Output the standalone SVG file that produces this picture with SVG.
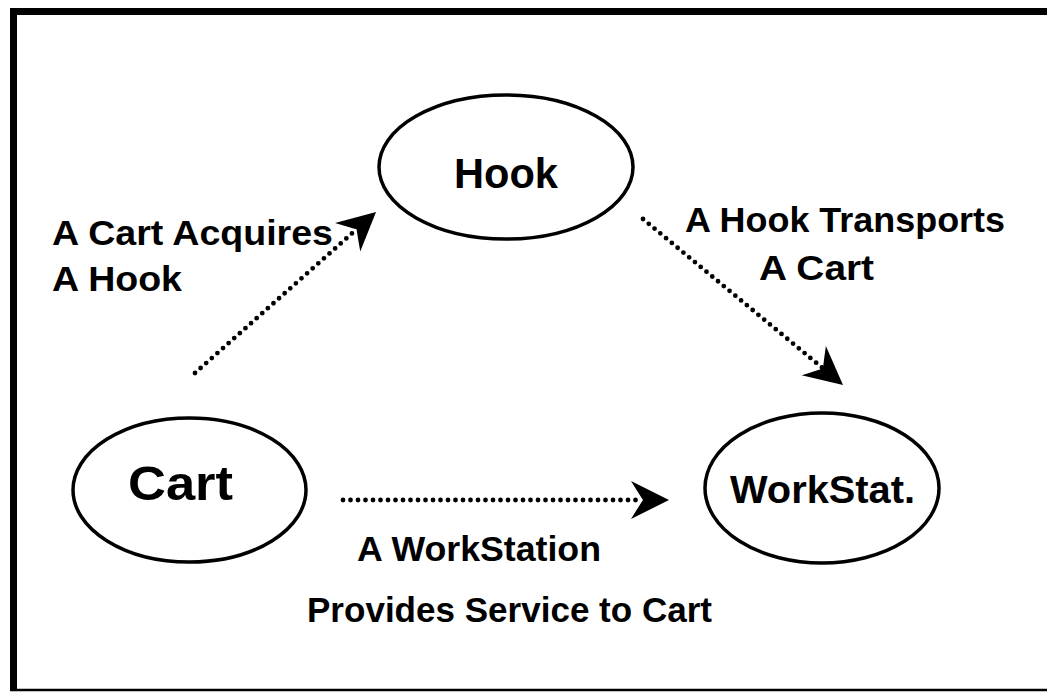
<svg xmlns="http://www.w3.org/2000/svg" width="1047" height="693" viewBox="0 0 1047 693">
<style>
.node{fill:#fff;stroke:#000;stroke-width:3.5}
.nlabel{font-family:"Liberation Sans",Arial,sans-serif;font-weight:bold;fill:#000;text-anchor:middle}
.elabel{font-family:"Liberation Sans",Arial,sans-serif;font-weight:bold;font-size:35px;fill:#000}
.edge{fill:none;stroke:#000;stroke-width:4.8;stroke-linecap:round;stroke-dasharray:0 7.5}
.frame{stroke:#000;fill:none}
</style>
<defs>
<marker id="arr" markerUnits="userSpaceOnUse" markerWidth="44" markerHeight="44" viewBox="-42 -22 44 44" refX="-26" refY="0" orient="auto">
<path d="M0,0 L-38,-19 Q-30,-6 -26,0 Q-30,6 -38,19 Z" fill="#000"/>
</marker>
</defs>
<rect width="1047" height="693" fill="#fff"/>
<g id="frame">
<line class="frame" x1="10" y1="11.5" x2="1047" y2="11.5" stroke-width="7"/>
<line class="frame" x1="13.5" y1="8" x2="13.5" y2="691" stroke-width="7"/>
<line class="frame" x1="10" y1="690" x2="1047" y2="690" stroke-width="2.5"/>
</g>
<g id="connectors">
<g id="edge-cart-hook">
<line class="edge" x1="195" y1="373" x2="356.6" y2="229.3" marker-end="url(#arr)"/>
<text class="elabel" x="52" y="245" textLength="281" lengthAdjust="spacingAndGlyphs">A Cart Acquires</text>
<text class="elabel" x="52" y="291" textLength="130" lengthAdjust="spacingAndGlyphs">A Hook</text>
</g>
<g id="edge-hook-workstat">
<line class="edge" x1="643" y1="219" x2="823" y2="368.4" marker-end="url(#arr)"/>
<text class="elabel" x="685" y="232" textLength="320" lengthAdjust="spacingAndGlyphs">A Hook Transports</text>
<text class="elabel" x="759" y="280" textLength="115" lengthAdjust="spacingAndGlyphs">A Cart</text>
</g>
<g id="edge-cart-workstat">
<line class="edge" x1="343" y1="500" x2="643" y2="500" marker-end="url(#arr)"/>
<text class="elabel" x="357" y="561" textLength="244" lengthAdjust="spacingAndGlyphs">A WorkStation</text>
<text class="elabel" x="307" y="622" textLength="405" lengthAdjust="spacingAndGlyphs">Provides Service to Cart</text>
</g>
</g>
<g id="node-hook">
<ellipse class="node" cx="506" cy="167" rx="127" ry="72"/>
<text class="nlabel" x="506" y="188" font-size="42" textLength="104" lengthAdjust="spacingAndGlyphs">Hook</text>
</g>
<g id="node-cart">
<ellipse class="node" cx="189.5" cy="490" rx="116.5" ry="72"/>
<text class="nlabel" x="180.5" y="500" font-size="49" textLength="105" lengthAdjust="spacingAndGlyphs">Cart</text>
</g>
<g id="node-workstat">
<ellipse class="node" cx="822" cy="488" rx="117" ry="75"/>
<text class="nlabel" x="822.5" y="503" font-size="39.5" textLength="185" lengthAdjust="spacingAndGlyphs">WorkStat.</text>
</g>
</svg>
